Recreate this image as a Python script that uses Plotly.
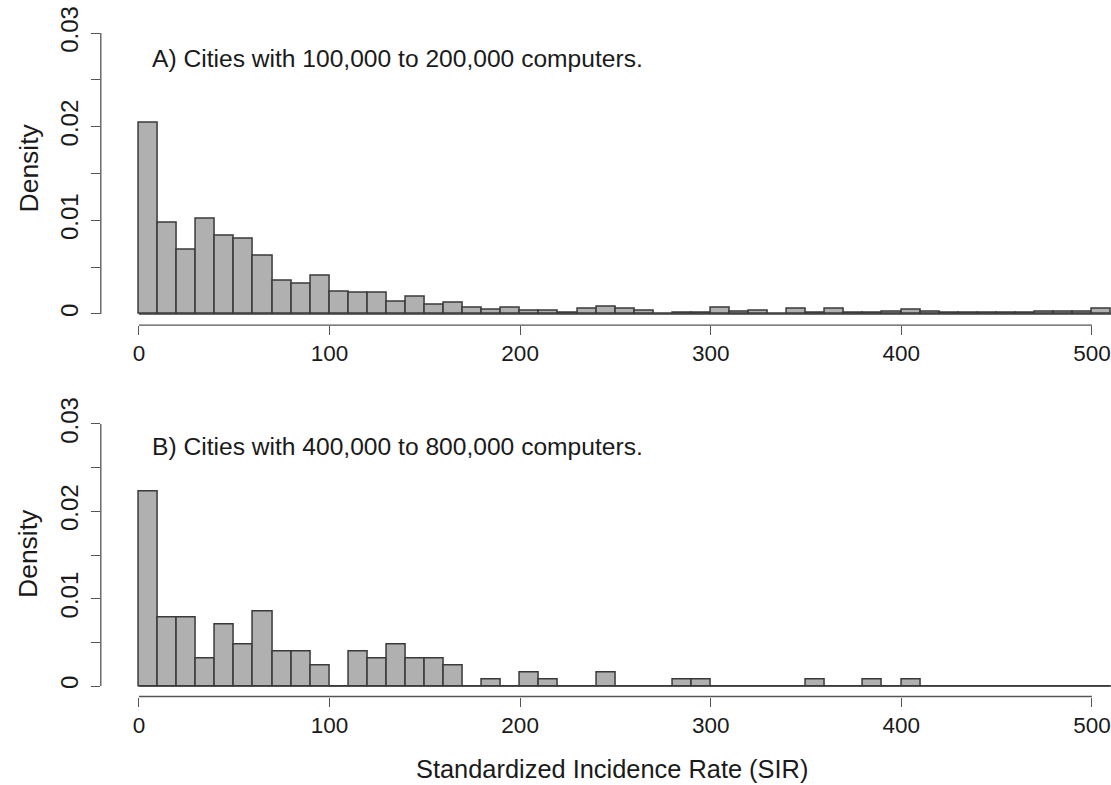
import plotly.graph_objects as go

# ---------------- data ----------------
bin_left = list(range(0, 510, 10))
bin_width = 10

density_a = [0.0204, 0.0097, 0.0069, 0.0102, 0.0083, 0.0080, 0.0062, 0.0035, 0.0032, 0.0041,
             0.0024, 0.0023, 0.0023, 0.00135, 0.00185, 0.00103, 0.00117, 0.0007, 0.00046, 0.00064,
             0.00036, 0.00036, 0.00014, 0.0005, 0.00078, 0.00053, 0.00036, 0.00005, 0.00014, 0.00014,
             0.00064, 0.0002, 0.00036, 0.00007, 0.00053, 0.0001, 0.00053, 0.0001, 0.0001, 0.0002,
             0.0004, 0.00025, 0.0001, 0.0001, 0.0001, 0.0001, 0.0001, 0.0002, 0.0002, 0.0002,
             0.0005]

density_b = [0.0223, 0.0078, 0.0078, 0.0031, 0.0070, 0.0047, 0.0085, 0.0039, 0.0039, 0.0023,
             0.0, 0.0039, 0.0031, 0.0047, 0.0031, 0.0031, 0.0023, 0.0, 0.0008, 0.0,
             0.0016, 0.0008, 0.0, 0.0, 0.0016, 0.0, 0.0, 0.0, 0.0008, 0.0008,
             0.0, 0.0, 0.0, 0.0, 0.0, 0.0008, 0.0, 0.0, 0.0008, 0.0,
             0.0008, 0.0, 0.0, 0.0, 0.0, 0.0, 0.0, 0.0, 0.0, 0.0,
             0.0]

x_ticks = [0, 100, 200, 300, 400, 500]
y_ticks = [0, 0.01, 0.02, 0.03]
y_tick_text = ["0", "0.01", "0.02", "0.03"]
panel_titles = ["A) Cities with 100,000 to 200,000 computers.",
                "B) Cities with 400,000 to 800,000 computers."]
x_title = "Standardized Incidence Rate (SIR)"
y_title = "Density"

# ---------------- layout geometry ----------------
W, H = 1111, 785
OFF = 0  # page body margin removed via post_script
FONT = "Liberation Sans, Arial, Helvetica, sans-serif"
FS_XTICK = 22.5
FS_YTICK = 24
FS_MAIN = 24.6
FS_XLAB = 25.4
FS_YLAB = 26.5
BAR_FILL = "#b0b0b0"
BAR_LINE = "#3a3a3a"
AX_COL = "#555555"
TXT_COL = "#1a1a1a"


def px(xp):
    return (xp - OFF) / W


def py(yp):
    return 1 - (yp - OFF) / H


PX_PER_UNIT = 1.906
xdom = [px(100.8), 1.0]
xr = [-20, -20 + (W + OFF - 100.8) / PX_PER_UNIT]
yr = [-0.0012, 0.0312]
ydoms = [[py(325.2), py(21.8)], [py(696.5), py(413.5)]]


def xpaper(v):
    return xdom[0] + (v - xr[0]) / (xr[1] - xr[0]) * (xdom[1] - xdom[0])


def ypaper(v, dom):
    return dom[0] + (v - yr[0]) / (yr[1] - yr[0]) * (dom[1] - dom[0])


centers = [b + bin_width / 2 for b in bin_left]

fig = go.Figure()
for i, dens in enumerate([density_a, density_b]):
    sfx = "" if i == 0 else str(i + 1)
    fig.add_trace(go.Bar(
        x=centers, y=dens, width=bin_width,
        marker=dict(color=BAR_FILL, line=dict(color=BAR_LINE, width=1.5)),
        xaxis="x" + sfx, yaxis="y" + sfx, showlegend=False, hoverinfo="x+y",
    ))

axis_common = dict(showgrid=False, zeroline=False, showline=False, ticks="outside",
                   ticklen=9, tickwidth=1.3, tickcolor=AX_COL, ticklabeloverflow="allow")

layout = dict(width=W, height=H, margin=dict(l=0, r=0, t=0, b=0, autoexpand=False),
              autosize=False, paper_bgcolor="white", plot_bgcolor="white", bargap=0,
              font=dict(family=FONT, size=FS_YTICK, color=TXT_COL))

shapes = []
annotations = []
for i, dom in enumerate(ydoms):
    sfx = "" if i == 0 else str(i + 1)
    layout["xaxis" + sfx] = dict(domain=xdom, range=xr, anchor="y" + sfx,
                                 tickvals=x_ticks, ticktext=[str(t) for t in x_ticks],
                                 ticklabelstandoff=-1,
                                 tickfont=dict(family=FONT, size=FS_XTICK, color=TXT_COL),
                                 **axis_common)
    layout["yaxis" + sfx] = dict(domain=dom, range=yr, anchor="x" + sfx,
                                 tickvals=y_ticks, ticktext=y_tick_text, tickangle=-90,
                                 ticklabelstandoff=3,
                                 tickfont=dict(family=FONT, size=FS_YTICK, color=TXT_COL),
                                 minor=dict(dtick=0.005, tick0=0, ticks="outside", ticklen=9,
                                            tickwidth=1.3, tickcolor=AX_COL, showgrid=False),
                                 **axis_common)
    # R-style detached axis lines
    shapes.append(dict(type="line", xref="paper", yref="paper",
                       x0=xdom[0], x1=xdom[0], y0=ypaper(y_ticks[0], dom), y1=ypaper(y_ticks[-1], dom),
                       line=dict(color=AX_COL, width=1.3)))
    shapes.append(dict(type="line", xref="paper", yref="paper",
                       x0=xpaper(x_ticks[0]), x1=xpaper(x_ticks[-1]), y0=dom[0], y1=dom[0],
                       line=dict(color=AX_COL, width=1.3)))
    # histogram baseline (bottom edges of empty bins)
    shapes.append(dict(type="line", xref="x" + sfx, yref="y" + sfx,
                       x0=bin_left[0], x1=bin_left[-1] + bin_width, y0=0, y1=0,
                       line=dict(color=BAR_LINE, width=1.5)))
    # panel title
    annotations.append(dict(text=panel_titles[i], xref="paper", yref="paper",
                            x=px(150), y=py(59 if i == 0 else 446),
                            xanchor="left", yanchor="middle", showarrow=False,
                            font=dict(family=FONT, size=FS_MAIN, color=TXT_COL)))
    # y axis title
    annotations.append(dict(text=y_title, xref="paper", yref="paper",
                            x=px(28), y=py(168.5 if i == 0 else 554),
                            xanchor="center", yanchor="middle", textangle=-90, showarrow=False,
                            font=dict(family=FONT, size=FS_YLAB, color=TXT_COL)))

annotations.append(dict(text=x_title, xref="paper", yref="paper",
                        x=px(612), y=py(769), xanchor="center", yanchor="middle",
                        showarrow=False, font=dict(family=FONT, size=FS_XLAB, color=TXT_COL)))

layout["shapes"] = shapes
layout["annotations"] = annotations
fig.update_layout(**layout)

fig.write_html("out.html", config={"displayModeBar": False},
               post_script="document.body.style.margin='0';document.body.style.overflow='hidden';")
